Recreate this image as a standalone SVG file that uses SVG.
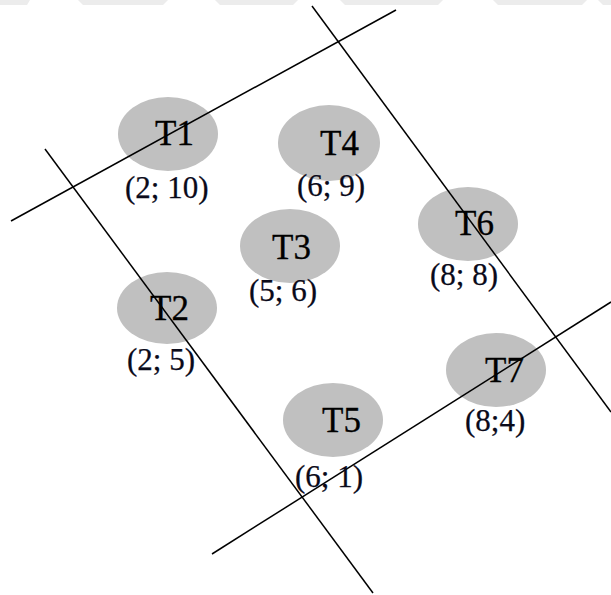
<svg xmlns="http://www.w3.org/2000/svg" width="611" height="595" viewBox="0 0 611 595">
<style>
.bg{fill:#ffffff}
.band{fill:#ececec}
.node{fill:#c0c0c0}
.lbl{font-family:"Liberation Serif","Times New Roman",serif;font-size:35px;fill:#000;stroke:#000;stroke-width:0.3}
.crd{font-family:"Liberation Serif","Times New Roman",serif;font-size:31px;fill:#0a0a1a;stroke:#0a0a1a;stroke-width:0.25}
.ln{stroke:#000;stroke-width:1.5;fill:none}
</style>
<rect class="bg" x="0" y="0" width="611" height="595"/>
<g id="topband">
<polygon class="band" points="0,0 30,0 27,5 0,5"/>
<polygon class="band" points="78,0 168,0 163,5 83,5"/>
<polygon class="band" points="215,0 298,0 293,5 220,5"/>
<polygon class="band" points="340,0 443,0 438,5 345,5"/>
<polygon class="band" points="493,0 587,0 582,5 498,5"/>
<polygon class="band" points="598,0 611,0 611,5 603,5"/>
</g>
<g id="T1"><ellipse class="node" cx="168" cy="134" rx="50" ry="37"/></g>
<g id="T4"><ellipse class="node" cx="329" cy="143" rx="51" ry="38"/></g>
<g id="T3"><ellipse class="node" cx="290" cy="246" rx="50" ry="37"/></g>
<g id="T6"><ellipse class="node" cx="468" cy="224" rx="50" ry="37"/></g>
<g id="T7"><ellipse class="node" cx="496" cy="370" rx="50" ry="37"/></g>
<g id="T2"><ellipse class="node" cx="167" cy="308" rx="50" ry="36"/></g>
<g id="T5"><ellipse class="node" cx="333" cy="420" rx="50" ry="37"/></g>
<g id="connectors">
<line class="ln" x1="11" y1="221" x2="396" y2="10"/>
<line class="ln" x1="45" y1="149" x2="373" y2="593"/>
<line class="ln" x1="312" y1="6" x2="611" y2="412"/>
<line class="ln" x1="212" y1="554" x2="611" y2="302"/>
</g>
<g id="labels">
<text class="lbl" x="155" y="145">T1</text>
<text class="lbl" x="320" y="155">T4</text>
<text class="lbl" x="272" y="259">T3</text>
<text class="lbl" x="455" y="235">T6</text>
<text class="lbl" x="485" y="382">T7</text>
<text class="lbl" x="150" y="320">T2</text>
<text class="lbl" x="322" y="432">T5</text>
<text class="crd" x="125" y="198">(2; 10)</text>
<text class="crd" x="297" y="196">(6; 9)</text>
<text class="crd" x="249" y="301">(5; 6)</text>
<text class="crd" x="430" y="285">(8; 8)</text>
<text class="crd" x="465" y="431">(8;4)</text>
<text class="crd" x="127" y="370">(2; 5)</text>
<text class="crd" x="295" y="487">(6; 1)</text>
</g>
</svg>
